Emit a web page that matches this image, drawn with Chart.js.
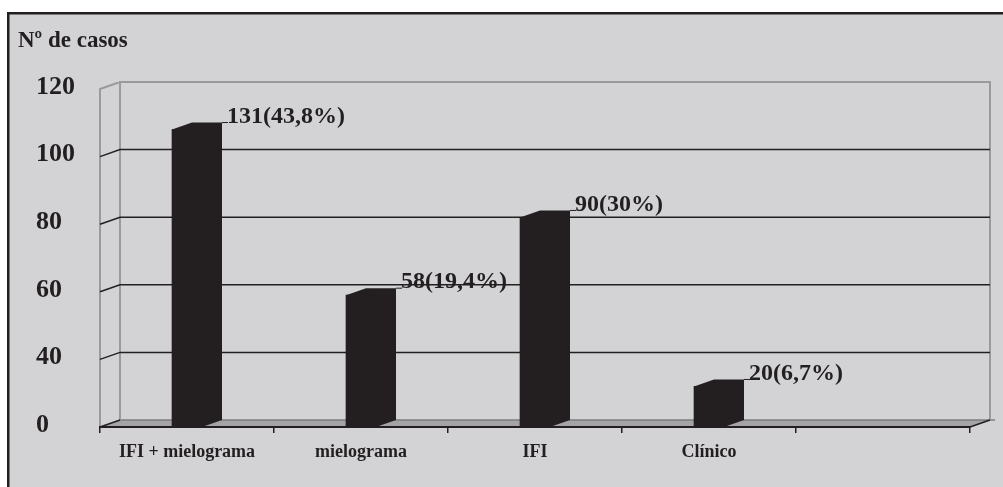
<!DOCTYPE html>
<html>

<head>
  <meta charset="utf-8">
  <title>Nº de casos</title>
  <script src="https://cdnjs.cloudflare.com/ajax/libs/Chart.js/4.4.0/chart.umd.min.js"></script>
  <style>
    html,
    body {
      margin: 0;
      padding: 0;
      background: #fff;
    }

    canvas {
      display: block;
    }
  </style>
</head>

<body>
  <canvas id="grafico" width="1003" height="487"></canvas>
  <script>
    // dados
    var categorias = ['IFI + mielograma', 'mielograma', 'IFI', 'Clínico', ''];
    var alturas = [108, 59, 82, 32];
    var rotulos = ['131(43,8%)', '58(19,4%)', '90(30%)', '20(6,7%)'];
    var yTickLabels = ['0', '40', '60', '80', '100', '120'];
    var Y_MIN = 20, Y_MAX = 120;

    var DX = 20, DY = -7;        // profundidade do efeito 3D
    var INK = '#231f20';
    var SERIF = '"Liberation Serif", "DejaVu Serif", serif';

    var paredes = {
      id: 'paredes',
      beforeDraw: function(chart) {
        var c = chart.ctx, w = chart.width, h = chart.height;
        var a = chart.chartArea, sy = chart.scales.y;
        var L = a.left, R = a.right, T = a.top, B = a.bottom;
        c.save();
        c.fillStyle = '#fff';
        c.fillRect(0, 0, w, h);
        c.fillStyle = '#d3d3d5';
        c.fillRect(8, 12, w - 8, h - 12);
        c.fillStyle = INK;
        c.fillRect(7, 12, w - 7, 2.5);
        c.fillRect(7, 12, 2.5, h - 12);

        // chao
        c.fillStyle = '#a4a4a6';
        c.beginPath();
        c.moveTo(L, B); c.lineTo(L + DX, B + DY); c.lineTo(R + DX, B + DY); c.lineTo(R, B);
        c.closePath();
        c.fill();
        c.strokeStyle = '#7c7c7e';
        c.lineWidth = 1.5;
        c.beginPath();
        c.moveTo(L + DX, B + DY); c.lineTo(R + DX + 5, B + DY);
        c.stroke();

        // paredes
        c.strokeStyle = '#9a9a9c';
        c.lineWidth = 2;
        c.beginPath();
        c.moveTo(L + DX, B + DY); c.lineTo(L + DX, T + DY); c.lineTo(R + DX, T + DY); c.lineTo(R + DX, B + DY);
        c.moveTo(L, B); c.lineTo(L, T); c.lineTo(L + DX, T + DY);
        c.stroke();

        // linhas de grade
        c.strokeStyle = INK;
        c.lineWidth = 1.5;
        c.beginPath();
        sy.ticks.forEach(function(t) {
          if (t.value <= sy.min || t.value >= sy.max) return;
          var py = sy.getPixelForValue(t.value);
          c.moveTo(L, py); c.lineTo(L + DX, py + DY); c.lineTo(R + DX, py + DY);
        });
        c.moveTo(L, B); c.lineTo(L + DX, B + DY);
        c.moveTo(R, B); c.lineTo(R + DX, B + DY);
        c.stroke();

        c.font = 'bold 23px ' + SERIF;
        c.fillStyle = INK;
        c.textBaseline = 'middle';
        c.fillText('Nº de casos', 18, 41);
        c.restore();
      },
      beforeDatasetsDraw: function(chart) {
        var c = chart.ctx;
        c.save();
        c.fillStyle = INK;
        chart.getDatasetMeta(0).data.forEach(function(bar) {
          var p = bar.getProps(['x', 'y', 'base', 'width']);
          var l = p.x - p.width / 2, r = p.x + p.width / 2;
          c.beginPath();
          c.moveTo(l, p.base); c.lineTo(l, p.y); c.lineTo(l + DX, p.y + DY);
          c.lineTo(r + DX, p.y + DY); c.lineTo(r + DX, p.base + DY); c.lineTo(r, p.base);
          c.closePath();
          c.fill();
        });
        c.restore();
      },
      afterDatasetsDraw: function(chart) {
        var c = chart.ctx;
        c.save();
        c.strokeStyle = INK;
        c.lineWidth = 1;
        c.fillStyle = INK;
        c.font = 'bold 24px ' + SERIF;
        c.textBaseline = 'middle';
        chart.getDatasetMeta(0).data.forEach(function(bar, i) {
          var p = bar.getProps(['x', 'y', 'width']);
          var r = p.x + p.width / 2 + DX, ty = p.y + DY;
          c.beginPath();
          c.moveTo(r, ty); c.lineTo(r + 6, ty);
          c.stroke();
          c.fillText(rotulos[i], r + 5, ty - 6);
        });
        c.restore();
      }
    };

    var options = {
      type: 'bar',
      data: {
        labels: categorias,
        datasets: [{
          data: alturas,
          base: Y_MIN,
          backgroundColor: INK,
          barThickness: 30
        }]
      },
      options: {
        responsive: false,
        animation: false,
        events: [],
        layout: {
          padding: { left: 36, top: 89, right: 33, bottom: 0 }
        },
        plugins: {
          legend: { display: false },
          tooltip: { enabled: false }
        },
        scales: {
          x: {
            afterFit: function(s) { s.height = 60; },
            grid: {
              offset: true,
              drawOnChartArea: false,
              drawTicks: true,
              tickLength: 6,
              color: INK,
              lineWidth: 1.5
            },
            border: { display: true, color: INK, width: 2 },
            ticks: {
              autoSkip: false,
              maxRotation: 0,
              padding: 9,
              color: INK,
              font: { family: SERIF, size: 18, weight: 'bold' }
            }
          },
          y: {
            min: Y_MIN,
            max: Y_MAX,
            afterFit: function(s) { s.width = 64; },
            grid: { display: false },
            border: { display: false },
            ticks: {
              stepSize: 20,
              crossAlign: 'far',
              labelOffset: -2,
              color: INK,
              font: { family: SERIF, size: 26, weight: 'bold' },
              callback: function(v, i) { return yTickLabels[i]; }
            }
          }
        }
      },
      plugins: [paredes]
    };

    var ctx = document.getElementById('grafico').getContext('2d');
    window.grafico = new Chart(ctx, options);
  </script>
</body>

</html>
